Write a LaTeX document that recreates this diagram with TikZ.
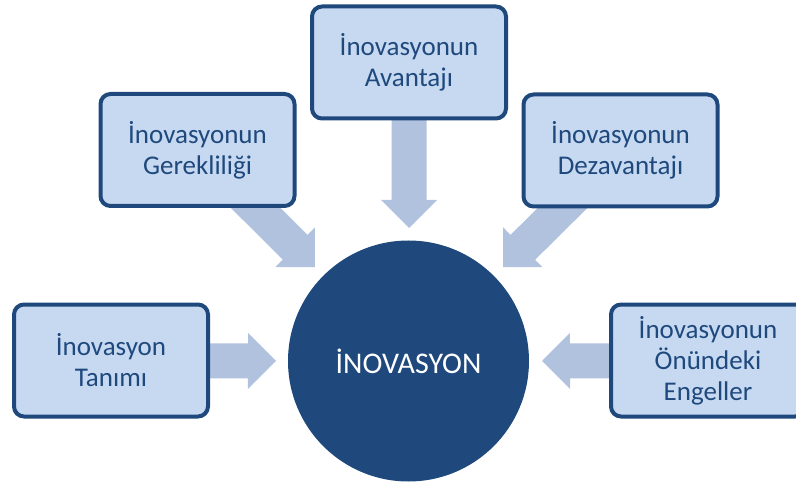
\documentclass[tikz,border=0pt]{standalone}
\usepackage{fontspec}
\setmainfont{Carlito}
\usetikzlibrary{calc,backgrounds}

\definecolor{boxfill}{HTML}{C6D9F1}
\definecolor{navy}{HTML}{1F497D}
\definecolor{arrowfill}{HTML}{B1C2DE}

% block arrow from #1 to the tip #2 (shaft 35pt wide, head 56pt wide, 28pt long)
\newcommand\blockarrow[2]{%
  \path ($(#2)!28pt!(#1)$) coordinate (ba-h);
  \fill[arrowfill]
    ($(#1)!17.5pt!90:(#2)$) -- ($(ba-h)!17.5pt!-90:(#1)$) --
    ($(ba-h)!28pt!-90:(#1)$) -- (#2) -- ($(ba-h)!28pt!90:(#1)$) --
    ($(ba-h)!17.5pt!90:(#1)$) -- ($(#1)!17.5pt!-90:(#2)$) -- cycle;}

\begin{document}
\begin{tikzpicture}[x=1pt,y=-1pt,
  topic/.style={draw=navy, line width=4pt, fill=boxfill, rounded corners=10pt,
    text=navy, align=center, font=\fontsize{27}{31}\selectfont,
    minimum width=194pt, minimum height=112pt, inner sep=0pt},
  core/.style={circle, fill=navy, text=white, minimum size=241pt,
    font=\fontsize{30}{36}\selectfont, inner sep=0pt}]
\clip (0,0) rectangle (796,484);

\node[core] (c) at (408.5,361) {İNOVASYON};

\node[topic] (b1) at (111,360.5) {İnovasyon\\Tanımı};
\node[topic] (b2) at (197.5,150) {İnovasyonun\\Gerekliliği};
\node[topic] (b3) at (409,62.5) {İnovasyonun\\Avantajı};
\node[topic] (b4) at (620.5,150.5) {İnovasyonun\\Dezavantajı};
\node[topic] (b5) at (708,360.5) {İnovasyonun\\Önündeki\\Engeller};

% arrow tips, just short of the circle
\coordinate (t1) at (276,361);
\coordinate (t2) at (315,267);
\coordinate (t3) at (409,228);
\coordinate (t4) at (503,267);
\coordinate (t5) at (542,361);

\begin{pgfonlayer}{background}
  \blockarrow{b1.center}{t1}
  \blockarrow{b2.center}{t2}
  \blockarrow{b3.center}{t3}
  \blockarrow{b4.center}{t4}
  \blockarrow{b5.center}{t5}
\end{pgfonlayer}
\end{tikzpicture}
\end{document}
